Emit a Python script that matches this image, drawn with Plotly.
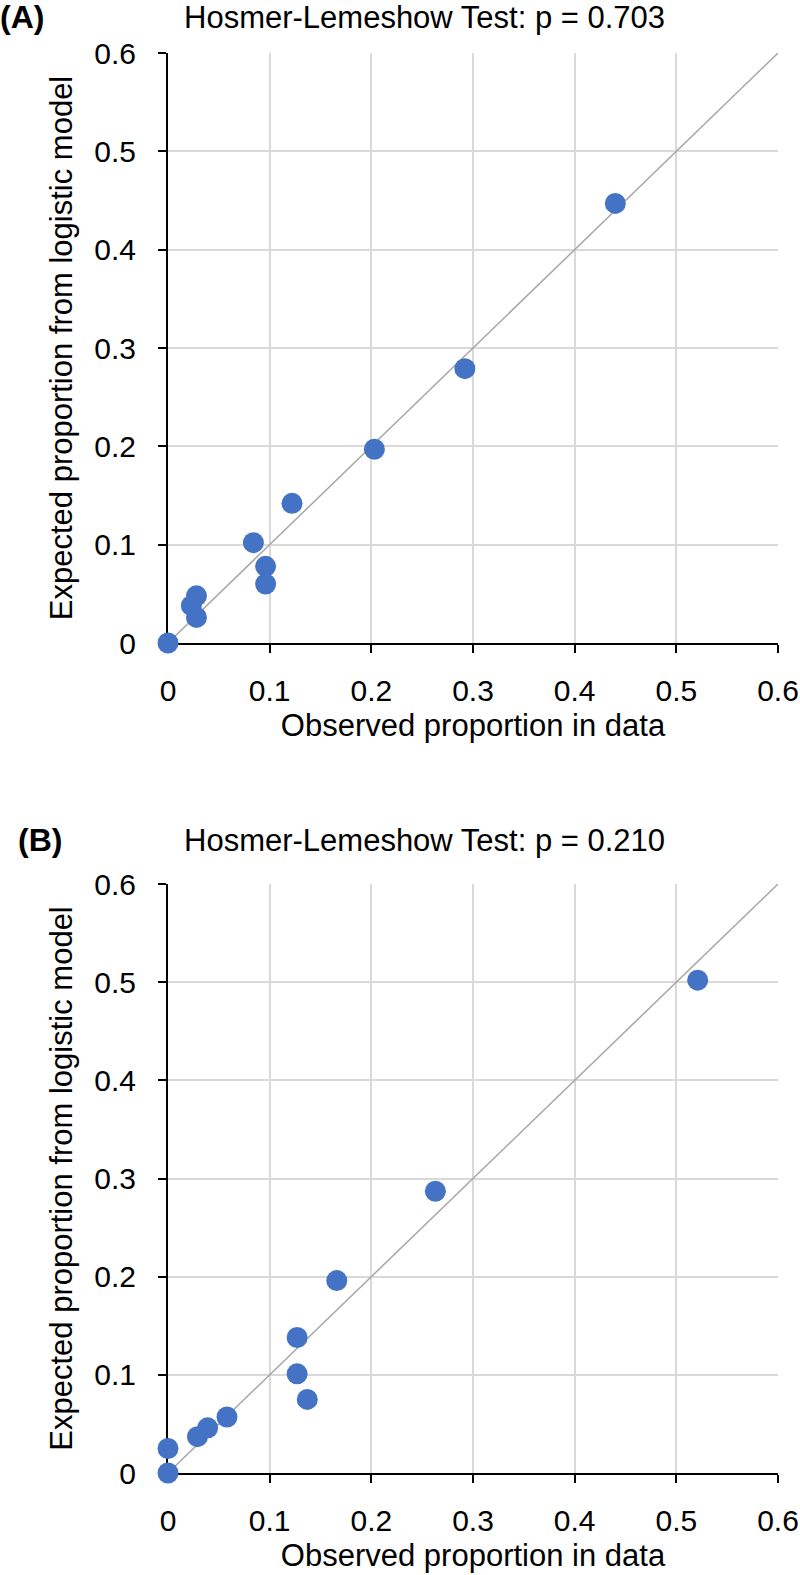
import plotly.graph_objects as go

# Data
obs_a = [0, 0.023, 0.028, 0.028, 0.084, 0.096, 0.096, 0.122, 0.203, 0.292, 0.440]
exp_a = [0, 0.038, 0.048, 0.026, 0.102, 0.078, 0.060, 0.142, 0.197, 0.279, 0.447]

obs_b = [0, 0, 0.029, 0.039, 0.058, 0.127, 0.127, 0.137, 0.166, 0.263, 0.521]
exp_b = [0, 0.025, 0.037, 0.046, 0.057, 0.138, 0.101, 0.075, 0.196, 0.287, 0.502]

ref_line = [0, 0.6]  # perfect calibration diagonal
tick_vals = [0, 0.1, 0.2, 0.3, 0.4, 0.5, 0.6]
tick_text = ["0", "0.1", "0.2", "0.3", "0.4", "0.5", "0.6"]

panel_labels = ["(A)", "(B)"]
panel_titles = ["Hosmer-Lemeshow Test: p = 0.703", "Hosmer-Lemeshow Test: p = 0.210"]

W, H = 800, 1575
FONT = "Liberation Sans, Arial, sans-serif"
blue = "#4472C4"

fig = go.Figure()

for i, (xs, ys) in enumerate([(obs_a, exp_a), (obs_b, exp_b)]):
    xa = "x" if i == 0 else "x2"
    ya = "y" if i == 0 else "y2"
    fig.add_trace(go.Scatter(x=ref_line, y=ref_line, mode="lines",
                             line=dict(color="#a6a6a6", width=1.5),
                             xaxis=xa, yaxis=ya, showlegend=False, hoverinfo="skip"))
    fig.add_trace(go.Scatter(x=xs, y=ys, mode="markers",
                             marker=dict(color=blue, size=21),
                             cliponaxis=False,
                             xaxis=xa, yaxis=ya, showlegend=False))

# plot areas in pixels
x_dom = [168 / W, 778 / W]
y_dom_a = [1 - 643 / H, 1 - 53 / H]
y_dom_b = [1 - 1473 / H, 1 - 884 / H]

axis_common = dict(
    range=[0, 0.6], tickvals=tick_vals, ticktext=tick_text,
    showgrid=True, gridcolor="#d9d9d9", gridwidth=1.5,
    zeroline=False, showline=True, linecolor="black", linewidth=2,
    ticks="outside", ticklen=8, tickcolor="black", tickwidth=2,
    tickfont=dict(size=30, color="black", family=FONT),
    layer="below traces", automargin=False,
)

xt = dict(text="Observed proportion in data", font=dict(size=31, color="black", family=FONT), standoff=8)
yt = dict(text="Expected proportion from logistic model", font=dict(size=31, color="black", family=FONT), standoff=12)

fig.update_layout(
    template="none",
    width=W, height=H,
    margin=dict(l=0, r=0, t=0, b=0),
    paper_bgcolor="white", plot_bgcolor="white",
    font=dict(family=FONT, color="black"),
    xaxis=dict(domain=x_dom, anchor="y", title=xt, ticklabelstandoff=12, **axis_common),
    yaxis=dict(domain=y_dom_a, anchor="x", title=yt, ticklabelstandoff=16, **axis_common),
    xaxis2=dict(domain=x_dom, anchor="y2", title=xt, ticklabelstandoff=12, **axis_common),
    yaxis2=dict(domain=y_dom_b, anchor="x2", title=yt, ticklabelstandoff=16, **axis_common),
)

label_y = [1 - 17 / H, 1 - 840 / H]
label_x = [0, 18 / W]
for lab, ttl, yy, xx in zip(panel_labels, panel_titles, label_y, label_x):
    fig.add_annotation(text="<b>" + lab + "</b>", x=xx, y=yy, xref="paper", yref="paper",
                       xanchor="left", yanchor="middle", showarrow=False, xshift=-2,
                       font=dict(size=32, color="black", family=FONT))
    fig.add_annotation(text=ttl, x=0.53, y=yy, xref="paper", yref="paper",
                       xanchor="center", yanchor="middle", showarrow=False,
                       font=dict(size=31, color="black", family=FONT))

# drop the browser's default body margin so the figure sits at the page origin
fig.write_html("out.html", config={"displayModeBar": False},
               post_script="document.body.style.margin='0';document.body.style.overflow='hidden';")
